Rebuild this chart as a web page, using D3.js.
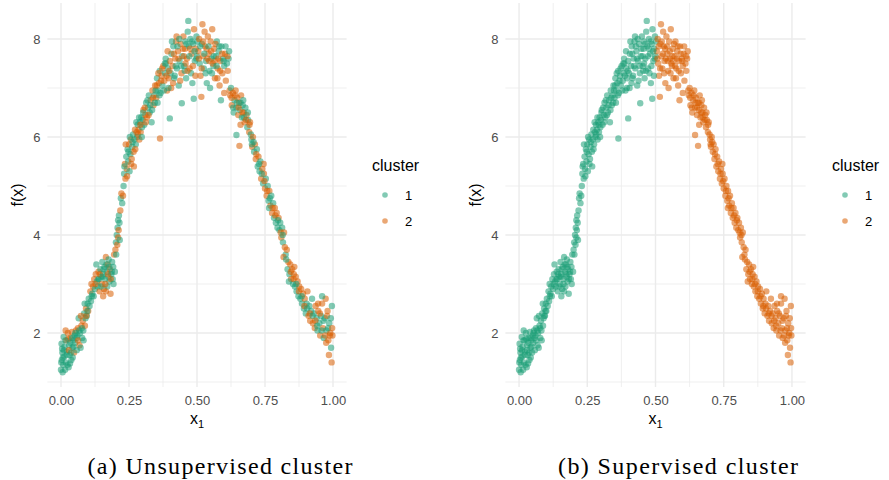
<!DOCTYPE html>
<html><head><meta charset="utf-8">
<script src="https://cdn.jsdelivr.net/npm/d3@7"></script>
<style>body{margin:0;background:#fff}svg{display:block}</style>
</head><body><svg id="chart" width="889" height="480"></svg>
<script>
// ---- data ----
const x1Values = [
 // seg1
 0.000,0.003,0.005,0.002,0.008,0.010,0.012,0.004,0.015,0.018,0.020,0.022,0.025,0.028,0.030,0.032,0.035,0.038,0.040,0.042,0.045,0.048,0.050,0.013,0.027,0.007,0.033,0.017,0.043,0.001,
 // seg2
 0.052,0.055,0.058,0.060,0.062,0.065,0.068,0.070,0.072,0.075,0.078,0.080,0.082,0.085,0.088,0.090,0.092,0.095,0.098,0.100,0.057,0.073,0.087,
 // seg3
 0.102,0.105,0.108,0.110,0.112,0.115,0.118,0.120,0.122,0.125,0.128,0.130,0.132,0.135,0.138,0.140,0.142,0.145,0.148,0.150,0.152,0.155,0.158,0.160,0.162,0.165,0.168,0.170,0.172,0.175,0.178,0.180,0.182,0.185,0.188,0.190,0.192,0.195,0.198,0.155,0.165,0.175,
 // seg4
 0.200,0.202,0.203,0.205,0.207,0.208,0.210,0.210,0.212,0.213,0.215,0.216,0.218,0.220,0.222,0.225,0.228,
 // seg5
 0.230,0.232,0.235,0.237,0.240,0.242,0.245,0.247,0.250,0.252,0.255,0.257,0.260,0.262,0.265,0.267,0.270,0.272,0.275,0.278,0.280,0.282,0.285,0.288,0.290,0.293,0.295,0.298,0.238,0.253,0.268,
 // seg6
 0.300,0.303,0.306,0.310,0.313,0.316,0.320,0.323,0.326,0.330,0.333,0.336,0.340,0.343,0.346,0.350,0.353,0.356,0.360,0.363,0.366,0.370,0.373,0.376,0.380,0.383,0.386,0.390,0.393,0.396,0.364,0.400,0.355,
 // seg7
 0.400,0.403,0.406,0.410,0.413,0.416,0.420,0.423,0.426,0.430,0.433,0.436,0.440,0.443,0.446,0.450,0.453,0.456,0.460,0.463,0.466,0.468,0.470,0.473,0.476,0.480,0.483,0.486,0.489,0.492,0.495,0.498,0.444,0.488,0.405,0.418,0.438,0.458,0.478,0.500,0.502,0.425,0.455,
 // seg8
 0.505,0.508,0.510,0.513,0.516,0.518,0.520,0.522,0.525,0.528,0.530,0.533,0.536,0.540,0.543,0.546,0.550,0.553,0.556,0.560,0.563,0.566,0.570,0.573,0.576,0.580,0.583,0.586,0.590,0.593,0.596,0.600,0.603,0.606,0.610,0.613,0.616,0.620,0.548,0.565,0.535,0.588,0.600,
 // seg9
 0.622,0.625,0.628,0.632,0.635,0.638,0.642,0.645,0.648,0.652,0.655,0.658,0.662,0.665,0.668,0.672,0.675,0.678,0.682,0.685,0.688,0.692,0.695,0.698,0.645,0.656,0.670,0.660,
 // seg10
 0.700,0.703,0.706,0.710,0.713,0.716,0.720,0.723,0.726,0.730,0.733,0.736,0.740,0.743,0.746,0.750,0.753,0.756,0.760,0.763,0.766,0.770,0.773,0.776,0.780,0.783,0.786,0.790,0.793,0.796,0.745,0.765,
 // seg11
 0.800,0.803,0.806,0.810,0.813,0.816,0.820,0.823,0.826,0.830,0.833,0.836,0.840,0.843,0.846,0.850,0.853,0.856,0.860,0.863,0.866,0.870,0.873,0.876,0.880,0.818,0.838,0.858,
 // seg12
 0.883,0.886,0.890,0.893,0.896,0.900,0.903,0.906,0.910,0.913,0.916,0.920,0.923,0.926,0.930,0.933,0.936,0.940,0.943,0.946,0.950,0.953,0.956,0.960,0.963,0.966,0.970,0.973,0.976,0.980,0.983,0.986,0.990,0.993,0.996,0.998,0.985,0.995,0.975,0.960,0.945,
 // g1
 0.385,0.392,0.398,0.408,0.412,0.415,0.422,0.428,0.432,0.435,0.442,0.448,0.452,0.457,0.462,0.465,0.472,0.475,0.482,0.485,0.491,0.494,0.497,
 // g2
 0.507,0.512,0.517,0.523,0.527,0.532,0.538,0.542,0.545,0.552,0.558,0.562,0.568,0.572,0.578,0.582,0.585,0.592,0.598,0.605,0.612,0.618,0.575,0.555,
 // g3
 0.233,0.243,0.248,0.258,0.263,0.273,0.277,0.283,0.287,0.292,0.297,0.302,0.308,0.312,0.318,0.322,0.328,0.335,0.338,0.345,0.348,0.352,0.358,0.362,0.368,0.372,0.378,0.382,0.388,0.395,
 // g4
 0.006,0.011,0.016,0.021,0.024,0.029,0.034,0.037,0.041,0.046,0.053,0.063,0.067,0.077,0.083,0.093,0.097,
 // g5
 0.113,0.127,0.137,0.143,0.147,0.153,0.157,0.163,0.167,0.173,0.177,0.183,0.187,0.193,
 // g6
 0.627,0.633,0.640,0.647,0.653,0.660,0.667,0.673,0.680,0.687,0.693,0.702,0.708,0.718,0.728,0.738,0.748,0.758,0.768,0.778,0.788,0.798,
 // g7
 0.808,0.815,0.828,0.845,0.855,0.865,0.875,0.885,0.895,0.905,0.915,0.925,0.935,0.942,0.952,0.958,0.965,0.972,0.978,0.982,0.988,0.992,0.997
];
const fxValues = [
 // seg1
 1.25,1.45,1.60,1.78,1.35,1.92,1.52,1.68,1.25,1.40,1.85,1.62,2.00,1.30,1.75,1.55,1.90,1.45,2.02,1.70,1.85,1.60,1.95,1.72,1.88,1.50,1.38,2.05,1.50,1.40,
 // seg2
 1.80,2.05,1.65,1.95,2.10,2.30,1.75,2.00,1.70,2.15,1.90,2.25,2.05,2.40,2.15,2.30,2.50,2.35,2.60,2.45,1.90,2.35,2.60,
 // seg3
 2.70,2.55,2.85,2.65,3.00,2.80,2.95,2.75,3.10,2.90,3.20,3.40,3.05,2.95,3.25,3.10,2.85,3.30,3.15,3.00,3.45,3.20,2.90,3.35,3.10,3.55,3.25,2.95,3.40,3.15,3.05,3.30,2.80,3.20,3.45,3.10,3.35,3.60,3.25,2.75,2.85,3.50,
 // seg4
 3.70,3.85,3.60,4.00,3.80,4.15,3.95,4.30,4.10,4.40,4.25,3.90,4.50,4.75,4.85,4.65,4.80,
 // seg5
 5.00,5.25,5.45,5.15,5.60,5.35,5.75,5.50,5.85,5.30,5.65,5.95,5.55,5.80,6.05,5.70,5.95,6.15,5.85,6.10,6.00,6.25,6.15,5.95,6.30,6.10,6.40,6.20,5.85,6.00,5.40,
 // seg6
 6.35,6.55,6.25,6.45,6.70,6.40,6.60,6.85,6.50,6.75,6.30,6.95,6.65,6.85,7.05,6.80,7.20,6.95,7.10,7.35,6.90,7.25,7.05,7.45,7.15,7.30,7.50,6.95,7.40,7.20,5.97,6.38,6.70,
 // seg7
 7.55,7.30,7.70,7.45,7.85,7.20,7.60,7.95,7.40,7.75,7.05,7.55,7.90,7.30,7.65,8.05,7.45,7.80,7.20,7.60,8.15,8.37,7.85,7.40,8.00,7.70,7.10,7.90,8.20,7.55,7.80,8.05,6.69,6.78,7.00,7.25,7.15,7.50,7.30,7.65,7.95,8.05,7.35,
 // seg8
 7.75,8.00,7.50,7.25,6.82,7.90,8.30,7.65,7.40,8.15,7.85,7.55,7.10,8.05,7.70,7.35,7.95,7.60,8.20,7.45,7.80,7.20,7.65,7.95,7.40,7.75,7.05,7.55,7.85,7.30,7.60,7.45,7.70,7.15,7.50,7.35,7.60,6.95,7.00,7.55,7.80,6.75,6.90,
 // seg9
 6.85,7.00,6.65,6.90,6.50,6.75,6.95,6.60,6.80,6.45,6.70,6.55,6.85,6.40,6.65,6.50,6.30,6.60,6.45,6.20,6.35,6.10,6.30,6.05,6.04,5.82,6.75,6.25,
 // seg10
 5.95,5.80,6.00,5.70,5.85,5.55,5.75,5.40,5.60,5.30,5.50,5.15,5.35,5.05,5.25,4.95,5.15,4.80,5.00,4.70,4.90,4.60,4.80,4.45,4.65,4.35,4.55,4.25,4.45,4.15,5.45,4.55,
 // seg11
 4.35,4.10,4.25,3.95,4.15,3.85,4.05,3.75,3.60,3.70,3.30,3.45,3.20,3.40,3.10,3.30,3.00,3.20,2.95,3.15,2.85,3.05,2.75,2.95,2.70,3.55,3.05,3.35,
 // seg12
 2.90,2.60,2.80,2.50,2.70,2.40,2.60,2.85,2.35,2.55,2.25,2.45,2.70,2.20,2.40,2.10,2.55,2.30,2.05,2.45,2.20,1.95,2.35,2.60,2.10,1.90,2.30,2.70,2.05,2.45,1.85,2.20,2.00,1.70,2.55,1.95,1.55,1.40,1.80,2.75,2.60,
 // g1
 7.60,7.75,7.35,7.95,7.10,7.70,7.45,7.85,7.60,8.00,7.45,7.80,7.65,7.95,7.90,7.35,7.65,7.80,7.95,7.45,7.75,7.25,7.60,
 // g2
 7.60,7.85,7.40,7.95,7.70,7.30,7.60,7.85,7.55,7.75,7.50,7.65,7.90,7.45,7.60,7.85,7.35,7.70,7.55,7.85,7.65,7.75,7.20,7.30,
 // g3
 5.40,5.20,5.70,5.45,5.90,5.75,6.30,6.05,6.40,6.25,6.00,6.50,6.60,6.30,6.75,6.45,6.65,6.55,6.80,6.70,6.95,7.05,7.30,6.85,7.15,7.40,6.95,7.50,7.25,7.00,
 // g4
 1.20,1.65,1.85,1.55,1.35,1.65,1.80,1.60,1.90,1.72,2.00,1.85,2.05,2.10,1.85,2.35,2.45,
 // g5
 2.75,3.00,3.10,3.20,2.95,3.15,3.30,3.00,3.40,3.20,3.35,3.10,3.25,3.00,
 // g6
 6.80,6.60,6.85,6.70,6.60,6.70,6.50,6.40,6.35,6.50,6.25,5.85,5.90,5.65,5.45,5.25,5.10,4.90,4.75,4.55,4.40,4.30,
 // g7
 4.05,4.00,3.50,3.25,3.10,3.00,2.85,2.75,2.55,2.50,2.40,2.35,2.25,2.15,2.40,2.05,2.25,1.95,2.35,2.10,1.95,2.30,2.10
];
const clusterUnsup = [
 "1111111111"+"2121112121"+"1211211211",
 "12112"+"12112"+"12112"+"12112"+"121",
 "11212"+"12121"+"21112"+"12112"+"11211"+"21121"+"12211"+"11212"+"21",
 "21112"+"12121"+"11212"+"12",
 "11221"+"21121"+"12211"+"21212"+"11221"+"21121"+"2",
 "12121"+"21112"+"12212"+"21121"+"12122"+"11212"+"211",
 "21121"+"12212"+"11221"+"21212"+"11121"+"21121"+"21112"+"12211"+"121",
 "22122"+"12212"+"21122"+"12121"+"22112"+"12212"+"11221"+"21212"+"212",
 "21221"+"12122"+"21211"+"22121"+"12211"+"212",
 "12212"+"21121"+"12212"+"21211"+"22121"+"12121"+"21",
 "21121"+"12212"+"12122"+"21212"+"12121"+"212",
 "21212"+"11221"+"21121"+"22112"+"12122"+"11212"+"21211"+"22221"+"2",
 "12212"+"21121"+"12211"+"21212"+"121",
 "21221"+"12122"+"21212"+"12211"+"2121",
 "12121"+"21212"+"11221"+"21121"+"12212"+"21121",
 "11111"+"21111"+"12111"+"21",
 "12121"+"11212"+"1211",
 "21212"+"12121"+"21121"+"12212"+"21",
 "21122"+"12121"+"21212"+"11221"+"212"
].join("").split("");
const clusterSup = [
 "1111111111"+"1111111111"+"1111111111",
 "1111111111"+"1111111111"+"111",
 "1111111111"+"1111111111"+"1111111111"+"1111111111"+"11",
 "1111111111"+"1111111",
 "1111111111"+"1111111111"+"1111111111"+"1",
 "1111111111"+"1111111111"+"1111111111"+"111",
 "1111111111"+"1111111111"+"1111111111"+"1111111111"+"111",
 "2222222222"+"2222222222"+"2222222222"+"2222222222"+"222",
 "2222222222"+"2222222222"+"22222222",
 "2222222222"+"2222222222"+"2222222222"+"22",
 "2222222222"+"2222222222"+"22222222",
 "2222222222"+"2222222222"+"2222222222"+"2222222222"+"2",
 "1111111111"+"1111111111"+"111",
 "2222222222"+"2222222222"+"2222",
 "1111111111"+"1111111111"+"1111111111",
 "1111111111"+"1111111",
 "1111111111"+"1111",
 "2222222222"+"2222222222"+"22",
 "2222222222"+"2222222222"+"222"
].join("").split("");
const clusterLevels = ["1","2"];
const xTicks = [0, 0.25, 0.5, 0.75, 1];
const xMinor = [0.125, 0.375, 0.625, 0.875];
const yTicks = [2, 4, 6, 8];
const yMinor = [1, 3, 5, 7];
const captions = ["(a) Unsupervised cluster", "(b) Supervised cluster"];

// ---- drawing ----
const svg = d3.select("#chart");
const color = d3.scaleOrdinal().domain(clusterLevels).range(["#1B9E77", "#D95F02"]);
const y = d3.scaleLinear().domain([0.898, 8.735]).range([387, 3]);
const n = Math.min(x1Values.length, fxValues.length, clusterUnsup.length, clusterSup.length);
const sans = "'Liberation Sans', Arial, sans-serif";

const panels = [
  {left: 47.4, right: 346.6, clusters: clusterUnsup, legendX: 372, capX: 220, capW: 265, capText: captions[0]},
  {left: 505.4, right: 805.6, clusters: clusterSup, legendX: 832, capX: 678, capW: 240, capText: captions[1]}
];

panels.forEach(p => {
  const x = d3.scaleLinear().domain([-0.05, 1.05]).range([p.left, p.right]);
  const g = svg.append("g");
  // grid
  g.selectAll(".ymin").data(yMinor).join("line")
    .attr("x1", p.left).attr("x2", p.right).attr("y1", d => y(d)).attr("y2", d => y(d))
    .attr("stroke", "#ebebeb").attr("stroke-width", 0.8);
  g.selectAll(".xmin").data(xMinor).join("line")
    .attr("x1", d => x(d)).attr("x2", d => x(d)).attr("y1", 3).attr("y2", 387)
    .attr("stroke", "#ebebeb").attr("stroke-width", 0.8);
  g.selectAll(".ymaj").data(yTicks).join("line")
    .attr("x1", p.left).attr("x2", p.right).attr("y1", d => y(d)).attr("y2", d => y(d))
    .attr("stroke", "#ebebeb").attr("stroke-width", 1.4);
  g.selectAll(".xmaj").data(xTicks).join("line")
    .attr("x1", d => x(d)).attr("x2", d => x(d)).attr("y1", 3).attr("y2", 387)
    .attr("stroke", "#ebebeb").attr("stroke-width", 1.4);
  // axes
  const ax = g.append("g").attr("transform", "translate(0,387)")
    .call(d3.axisBottom(x).tickValues(xTicks).tickFormat(d3.format(".2f")).tickSize(0).tickPadding(9));
  ax.select(".domain").remove();
  ax.selectAll("text").attr("font-family", sans).attr("font-size", 13).attr("fill", "#4d4d4d");
  const ay = g.append("g").attr("transform", `translate(${p.left},0)`)
    .call(d3.axisLeft(y).tickValues(yTicks).tickFormat(d3.format("d")).tickSize(0).tickPadding(7));
  ay.select(".domain").remove();
  ay.selectAll("text").attr("font-family", sans).attr("font-size", 13).attr("fill", "#4d4d4d");
  // points
  const idx = d3.range(n);
  g.append("g").selectAll("circle").data(idx).join("circle")
    .attr("cx", i => x(x1Values[i])).attr("cy", i => y(fxValues[i])).attr("r", 3.2)
    .attr("fill", i => color(p.clusters[i])).attr("fill-opacity", 0.55);
  // axis titles
  const cx = (p.left + p.right) / 2;
  const xt = g.append("text").attr("x", cx).attr("y", 424).attr("text-anchor", "middle")
    .attr("font-family", sans).attr("font-size", 16).attr("fill", "#000");
  xt.append("tspan").text("x");
  xt.append("tspan").attr("font-size", 11).attr("dy", 4).text("1");
  g.append("text").attr("transform", `translate(${p.left - 24},195) rotate(-90)`).attr("text-anchor", "middle")
    .attr("font-family", sans).attr("font-size", 16).text("f(x)");
  // legend
  const lg = g.append("g");
  lg.append("text").attr("x", p.legendX).attr("y", 171).attr("font-family", sans).attr("font-size", 16).text("cluster");
  clusterLevels.forEach((c, k) => {
    const ky = 195 + k * 26;
    lg.append("circle").attr("cx", p.legendX + 13).attr("cy", ky).attr("r", 2.8).attr("fill", color(c)).attr("fill-opacity", 0.55);
    lg.append("text").attr("x", p.legendX + 33).attr("y", ky + 4.5).attr("font-family", sans).attr("font-size", 13).attr("fill", "#000").text(c);
  });
  // caption
  svg.append("text").attr("x", p.capX).attr("y", 474).attr("text-anchor", "middle")
    .attr("font-family", "'Liberation Serif', 'Times New Roman', serif").attr("font-size", 24)
    .attr("textLength", p.capW).attr("lengthAdjust", "spacing").text(p.capText);
});
</script></body></html>
